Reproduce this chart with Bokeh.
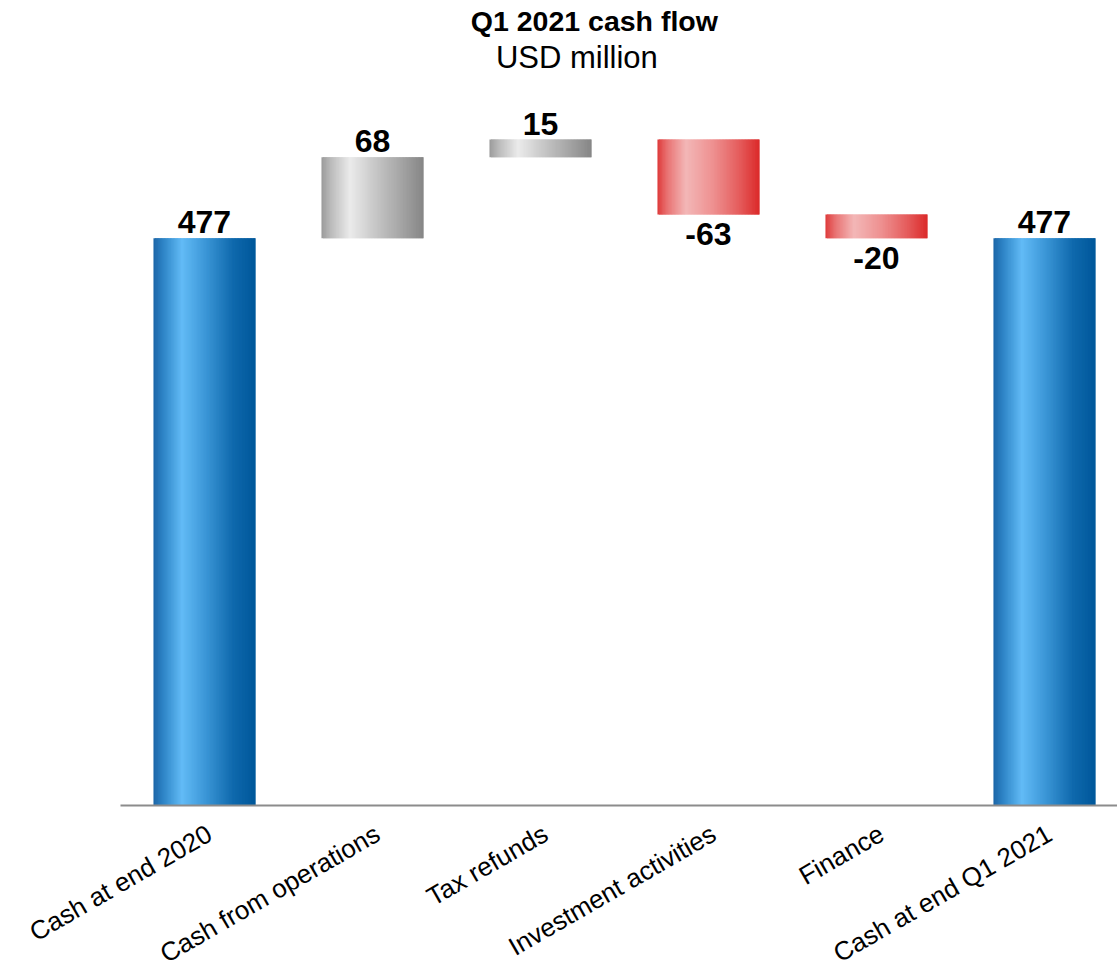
from math import pi

from bokeh.core.properties import value
from bokeh.embed import file_html
from bokeh.models import ColumnDataSource, FixedTicker, Label, Range1d
from bokeh.plotting import figure
from bokeh.resources import INLINE

# ---- data -------------------------------------------------------------
categories = [
    "Cash at end 2020",
    "Cash from operations",
    "Tax refunds",
    "Investment activities",
    "Finance",
    "Cash at end Q1 2021",
]
amounts = [477, 68, 15, -63, -20, 477]
is_total = [True, False, False, False, False, True]
value_labels = ["477", "68", "15", "-63", "-20", "477"]

title_text = "Q1 2021 cash flow"
subtitle_text = "USD million"

# ---- styling ----------------------------------------------------------
FONT = "Liberation Sans"
BAR_WIDTH = 0.607
STRIPS = 70
LABEL_NUDGE = 0.03   # rotated category labels sit a touch right of centre
X_START, X_END = -0.714, 5.935   # left margin is kept inside the frame

# horizontal "cylinder" shading, (position across bar, colour)
GRADIENTS = {
    "total": [(0.0, "#1c66a8"), (0.1, "#2f86c8"), (0.28, "#62bbf6"),
              (0.5, "#3d98d8"), (0.78, "#0f69ad"), (1.0, "#00579a")],
    "up": [(0.0, "#9b9b9b"), (0.1, "#bdbdbd"), (0.28, "#ebebeb"),
           (0.55, "#c4c4c4"), (0.8, "#a2a2a2"), (1.0, "#868686")],
    "down": [(0.0, "#de3b3b"), (0.1, "#e97474"), (0.28, "#f3b7b7"),
             (0.55, "#ee9090"), (0.8, "#e55d5d"), (1.0, "#db2a2a")],
}


def _hex_to_rgb(h):
    h = h.lstrip("#")
    return tuple(int(h[i:i + 2], 16) for i in (0, 2, 4))


def shade(stops, t):
    for (p0, c0), (p1, c1) in zip(stops[:-1], stops[1:]):
        if p0 <= t <= p1:
            f = (t - p0) / (p1 - p0) if p1 > p0 else 0.0
            a, b = _hex_to_rgb(c0), _hex_to_rgb(c1)
            r, g, bl = (round(a[k] + (b[k] - a[k]) * f) for k in range(3))
            return f"#{r:02x}{g:02x}{bl:02x}"
    return stops[-1][1]


# ---- waterfall extents ----------------------------------------------
bottoms, tops, kinds = [], [], []
running = 0
for amt, tot in zip(amounts, is_total):
    if tot:
        lo, hi = 0, amt
        running = amt
        kinds.append("total")
    else:
        start = running
        running += amt
        lo, hi = min(start, running), max(start, running)
        kinds.append("up" if amt > 0 else "down")
    bottoms.append(lo)
    tops.append(hi)

centres = [i + 0.5 for i in range(len(categories))]

# thin vertical strips give each bar its shaded look
strip = dict(left=[], right=[], bottom=[], top=[], color=[])
for i, centre in enumerate(centres):
    left = centre - BAR_WIDTH / 2
    dw = BAR_WIDTH / STRIPS
    for k in range(STRIPS):
        strip["left"].append(left + k * dw)
        strip["right"].append(left + min(k + 2, STRIPS) * dw)
        strip["bottom"].append(bottoms[i])
        strip["top"].append(tops[i])
        strip["color"].append(shade(GRADIENTS[kinds[i]], (k + 0.5) / STRIPS))

# value labels: above rising/total bars, below falling ones
# (y_offset is in screen pixels, positive = downwards)
lab = dict(x=[], y=[], text=[], off=[])
for i, centre in enumerate(centres):
    lab["x"].append(centre)
    lab["text"].append(value_labels[i])
    if kinds[i] == "down":
        lab["y"].append(bottoms[i])
        lab["off"].append(20)
    else:
        lab["y"].append(tops[i])
        lab["off"].append(-16)

# ---- figure -----------------------------------------------------------
p = figure(
    width=1117,
    height=970,
    x_range=Range1d(X_START, X_END),
    y_range=Range1d(-138.7, 676.9),
    y_axis_location=None,
    output_backend="svg",
    toolbar_location=None,
    min_border_left=0,
    min_border_right=0,
    min_border_top=0,
    min_border_bottom=0,
)
p.outline_line_color = None
p.grid.visible = False
p.background_fill_color = "white"
p.border_fill_color = "white"

p.quad(left="left", right="right", bottom="bottom", top="top",
       fill_color="color", line_color=None, source=ColumnDataSource(strip))

p.text(x="x", y="y", text="text", y_offset="off", text_baseline="middle",
       text_align="center", text_font=value(FONT), text_font_style="bold",
       text_font_size="32px", text_color="black",
       source=ColumnDataSource(lab))

tick_pos = [c + LABEL_NUDGE for c in centres]
overrides = {}
for t, name in zip(tick_pos, categories):
    overrides[t] = name
    overrides[f"{t:g}"] = name

# category axis sits on the zero line, starting at the first category
ax = p.xaxis[0]
ax.fixed_location = 0
ax.bounds = (0, X_END)
ax.ticker = FixedTicker(ticks=tick_pos)
ax.major_label_overrides = overrides
ax.axis_line_color = "#8c8c8c"
ax.axis_line_width = 2
ax.major_tick_line_color = None
ax.minor_tick_line_color = None
ax.major_label_orientation = pi / 6
ax.major_label_standoff = 20
ax.major_label_text_font = FONT
ax.major_label_text_font_size = "26px"
ax.major_label_text_color = "black"

p.add_layout(Label(x=2.821, y=659.5, text=title_text, text_align="center",
                   text_baseline="middle", text_font=FONT,
                   text_font_style="bold", text_font_size="28.5px",
                   text_color="black"))
p.add_layout(Label(x=2.717, y=629, text=subtitle_text, text_align="center",
                   text_baseline="middle", text_font=FONT,
                   text_font_size="31px", text_color="black"))

open("out.html", "w").write(file_html(p, INLINE))
